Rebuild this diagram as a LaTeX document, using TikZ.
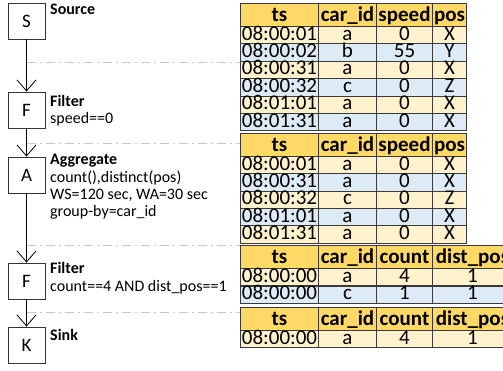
\documentclass[tikz,border=0pt]{standalone}
\usepackage{fontspec}
\setmainfont{Carlito}
\usetikzlibrary{arrows.meta}
\definecolor{hdrgold}{HTML}{FFD966}
\definecolor{rowora}{HTML}{FFF2CC}
\definecolor{rowblu}{HTML}{DDEBF7}
\definecolor{sepgray}{HTML}{C8C8C8}
\definecolor{gridgray}{HTML}{3A3A3A}
\begin{document}
\begin{tikzpicture}[x=1pt,y=-1pt,
  opbox/.style={draw=black!80,line width=0.9pt,minimum width=37pt,minimum height=36pt,inner sep=0pt,font=\fontsize{19}{19}\selectfont},
  lbl/.style={anchor=base west,inner sep=0pt,font=\fontsize{16}{17}\selectfont},
  hd/.style={lbl,font=\fontsize{16}{17}\selectfont\bfseries},
  flow/.style={-{Straight Barb[length=11pt,width=19pt]},line width=0.8pt},
  sep/.style={draw=sepgray,line width=0.9pt,dash pattern=on 9pt off 4pt on 2pt off 4pt},
  cell/.style={draw=gridgray,line width=1pt,anchor=north west,inner sep=0pt,minimum height=17.4pt,text height=13.5pt,text depth=3.5pt,font=\fontsize{21}{21}\selectfont},
  thd/.style={cell,fill=hdrgold,minimum height=23pt,text height=15pt,text depth=2pt,font=\fontsize{21}{21}\selectfont\bfseries},
  wts/.style={minimum width=78pt},
  wid/.style={minimum width=58pt},
  wsp/.style={minimum width=56pt},
  wpo/.style={minimum width=34pt},
  wdp/.style={minimum width=80pt}]
\clip (0,0) rectangle (503,371);
% separators
\draw[sep] (27,62) -- (240,62);
\draw[sep] (27,143) -- (240,143);
\draw[sep] (27,245) -- (240,245);
\draw[sep] (27,312) -- (240,312);
% operators
\node[opbox] (src) at (26.5,21) {S};
\node[opbox] (flt1) at (26.5,110) {F};
\node[opbox] (agg) at (26.5,175) {A};
\node[opbox] (flt2) at (26.5,281) {F};
\node[opbox] (snk) at (26.5,345) {K};
\draw[flow] (src) -- (flt1);
\draw[flow] (flt1) -- (agg);
\draw[flow] (agg) -- (flt2);
\draw[flow] (flt2) -- (snk);
% labels
\node[hd] (srcL) at (50,15) {Source};
\node[hd] (flt1L) at (50,107) {Filter};
\node[lbl] (flt1C) at (50,124) {speed==0};
\node[hd] (aggL) at (50,165) {Aggregate};
\node[lbl] (aggC1) at (50,182.5) {count(),distinct(pos)};
\node[lbl] (aggC2) at (50,200) {WS=120 sec, WA=30 sec};
\node[lbl] (aggC3) at (50,217) {group-by=car\_id};
\node[hd] (flt2L) at (50,273) {Filter};
\node[lbl] (flt2C) at (50,291) {count==4 AND dist\_pos==1};
\node[hd] (snkL) at (50,340) {Sink};
% input stream
\node[thd,wts] (t1ts) at (240,3) {ts};
\node[thd,wid] (t1id) at (318,3) {car\_id};
\node[thd,wsp] (t1sp) at (376,3) {speed};
\node[thd,wpo] (t1po) at (432,3) {pos};
\foreach \i/\ts/\id/\sp/\po/\fc in {1/08:00:01/a/0/X/rowora,2/08:00:02/b/55/Y/rowblu,3/08:00:31/a/0/X/rowora,4/08:00:32/c/0/Z/rowblu,5/08:01:01/a/0/X/rowora,6/08:01:31/a/0/X/rowblu}{
  \node[cell,wts,fill=\fc] (t1ts\i) at (240,{8.6+17.4*\i}) {\ts};
  \node[cell,wid,fill=\fc] (t1id\i) at (318,{8.6+17.4*\i}) {\id};
  \node[cell,wsp,fill=\fc] (t1sp\i) at (376,{8.6+17.4*\i}) {\sp};
  \node[cell,wpo,fill=\fc] (t1po\i) at (432,{8.6+17.4*\i}) {\po};
}
% after filter
\node[thd,wts] (t2ts) at (240,133) {ts};
\node[thd,wid] (t2id) at (318,133) {car\_id};
\node[thd,wsp] (t2sp) at (376,133) {speed};
\node[thd,wpo] (t2po) at (432,133) {pos};
\foreach \i/\ts/\id/\sp/\po/\fc in {1/08:00:01/a/0/X/rowora,2/08:00:31/a/0/X/rowblu,3/08:00:32/c/0/Z/rowora,4/08:01:01/a/0/X/rowblu,5/08:01:31/a/0/X/rowora}{
  \node[cell,wts,fill=\fc] (t2ts\i) at (240,{138.7+17.3*\i}) {\ts};
  \node[cell,wid,fill=\fc] (t2id\i) at (318,{138.7+17.3*\i}) {\id};
  \node[cell,wsp,fill=\fc] (t2sp\i) at (376,{138.7+17.3*\i}) {\sp};
  \node[cell,wpo,fill=\fc] (t2po\i) at (432,{138.7+17.3*\i}) {\po};
}
% after aggregate
\node[thd,wts] (t3ts) at (240,245) {ts};
\node[thd,wid] (t3id) at (318,245) {car\_id};
\node[thd,wsp] (t3ct) at (376,245) {count};
\node[thd,wdp] (t3dp) at (432,245) {dist\_pos};
\foreach \i/\ts/\id/\ct/\dpos/\fc in {1/08:00:00/a/4/1/rowora,2/08:00:00/c/1/1/rowblu}{
  \node[cell,wts,fill=\fc] (t3ts\i) at (240,{250.5+17.5*\i}) {\ts};
  \node[cell,wid,fill=\fc] (t3id\i) at (318,{250.5+17.5*\i}) {\id};
  \node[cell,wsp,fill=\fc] (t3ct\i) at (376,{250.5+17.5*\i}) {\ct};
  \node[cell,wdp,fill=\fc] (t3dp\i) at (432,{250.5+17.5*\i}) {\dpos};
}
% output
\node[thd,wts] (t4ts) at (240,307) {ts};
\node[thd,wid] (t4id) at (318,307) {car\_id};
\node[thd,wsp] (t4ct) at (376,307) {count};
\node[thd,wdp] (t4dp) at (432,307) {dist\_pos};
\node[cell,wts,fill=rowora] (t4ts1) at (240,330) {08:00:00};
\node[cell,wid,fill=rowora] (t4id1) at (318,330) {a};
\node[cell,wsp,fill=rowora] (t4ct1) at (376,330) {4};
\node[cell,wdp,fill=rowora] (t4dp1) at (432,330) {1};
\end{tikzpicture}
\end{document}
